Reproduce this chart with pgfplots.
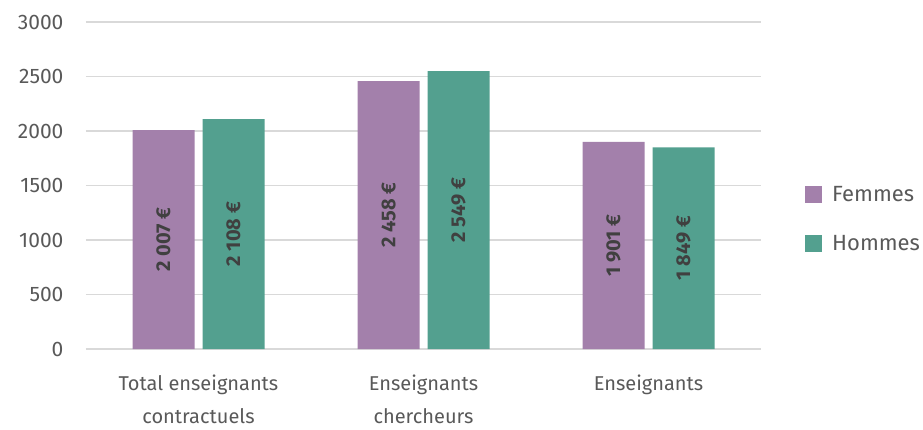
\documentclass[border=0pt]{standalone}
\usepackage{fontspec}
\setmainfont{Fira Sans}
\usepackage{pgfplots}
\pgfplotsset{compat=1.18}
\definecolor{fem}{HTML}{A380AB}
\definecolor{hom}{HTML}{53A08F}
\definecolor{txt}{HTML}{595959}
\definecolor{lab}{HTML}{404040}
\definecolor{grd}{HTML}{D9D9D9}
\begin{document}
\begin{tikzpicture}
\useasboundingbox (-86pt,-80pt) rectangle (837pt,349pt);
\begin{axis}[
  scale only axis,
  width=675pt, height=327pt,
  xmin=-0.5, xmax=2.5, ymin=0, ymax=3000,
  ytick={0,500,...,3000},
  xtick={0,1,2},
  xticklabels={{Total enseignants\\contractuels},{Enseignants\\chercheurs},{Enseignants}},
  xticklabel style={align=center, font=\fontsize{20}{33}\selectfont, text=txt, yshift=-22pt},
  yticklabel style={font=\fontsize{21}{24}\selectfont, text=txt, xshift=-19pt},
  /pgf/number format/assume math mode=true,
  /pgf/number format/1000 sep={},
  major tick length=0pt,
  axis line style={draw=none},
  ymajorgrids, grid style={grd, line width=1.2pt},
  ybar, bar width=62pt,
  legend style={draw=none, fill=none, at={(1,0.3976)}, anchor=west, xshift=44pt,
    font=\fontsize{22}{24}\selectfont, text=txt, row sep=28pt, inner sep=0pt},
  legend cell align=left,
]
\addplot[fill=fem, draw=none, bar shift=-35pt,
  legend image code/.code={\fill[fem] (0pt,-8.5pt) rectangle (17pt,8.5pt); \path (25pt,0pt);}]
  coordinates {(0,2007) (1,2458) (2,1901)};
\addplot[fill=hom, draw=none, bar shift=35pt,
  legend image code/.code={\fill[hom] (0pt,-8.5pt) rectangle (17pt,8.5pt); \path (25pt,0pt);}]
  coordinates {(0,2108) (1,2549) (2,1849)};
\legend{Femmes,Hommes}
\addplot[forget plot, draw=none, fill=none, bar shift=-35pt,
  nodes near coords, point meta=explicit symbolic,
  every node near coord/.append style={anchor=center, rotate=90, font=\fontsize{20}{22}\selectfont\bfseries, text=lab}]
  coordinates {(0,1003.5) [2 007 €] (1,1229) [2 458 €] (2,950.5) [1 901 €]};
\addplot[forget plot, draw=none, fill=none, bar shift=35pt,
  nodes near coords, point meta=explicit symbolic,
  every node near coord/.append style={anchor=center, rotate=90, font=\fontsize{20}{22}\selectfont\bfseries, text=lab}]
  coordinates {(0,1054) [2 108 €] (1,1274.5) [2 549 €] (2,924.5) [1 849 €]};
\end{axis}
\end{tikzpicture}
\end{document}
